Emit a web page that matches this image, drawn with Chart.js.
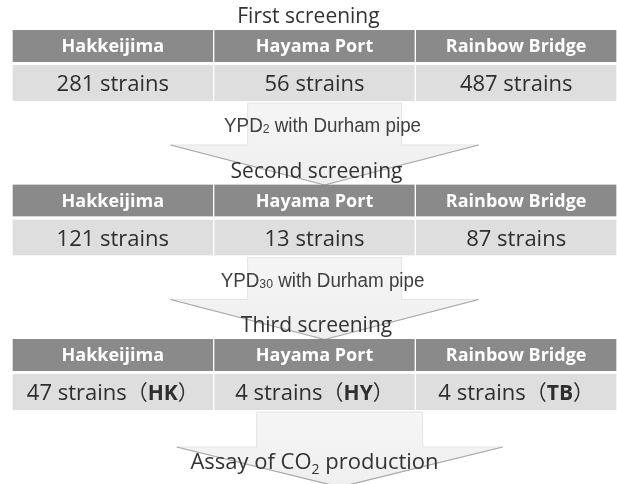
<!DOCTYPE html>
<html>
<head>
<meta charset="utf-8">
<script src="https://cdn.jsdelivr.net/npm/chart.js@4.4.0/dist/chart.umd.min.js"></script>
<style>
  html, body { margin: 0; padding: 0; background: #fff; }
  #wrap { width: 617px; height: 484px; }
</style>
</head>
<body>
<div id="wrap"><canvas id="flow"></canvas></div>
<script>
// screening flow data
var sites = ["Hakkeijima", "Hayama Port", "Rainbow Bridge"];
var stages = ["First screening", "Second screening", "Third screening"];
var firstStrains = [281, 56, 487];
var secondStrains = [121, 13, 87];
var thirdStrains = [47, 4, 4];
var codes = ["HK", "HY", "TB"];
var media = [["YPD", "2", " with Durham pipe"], ["YPD", "30", " with Durham pipe"]];
var finalStep = ["Assay of CO", "2", " production"];

var strains = [firstStrains, secondStrains, thirdStrains];
var BLOCK = 4.176; // rows between two stage tables

var headerCells = [];
var countCells = [];
stages.forEach(function(stage, si) {
    sites.forEach(function(site, ci) {
        headerCells.push({x: [ci, ci + 1], y: si * BLOCK, label: site});
        countCells.push({x: [ci, ci + 1], y: si * BLOCK + 1, n: strains[si][ci], code: si == 2 ? codes[ci] : null, col: ci});
    });
});

function drawRuns(ctx, runs, cx, baseline, sx) {
    sx = sx || 1;
    var total = 0;
    runs.forEach(function(r) {
        ctx.font = r.font;
        r.w = ctx.measureText(r.t).width * sx;
        total += r.w;
    });
    var x = cx - total / 2;
    ctx.textAlign = 'left';
    ctx.textBaseline = 'alphabetic';
    runs.forEach(function(r) {
        ctx.save();
        ctx.font = r.font;
        ctx.translate(x, baseline + (r.dy || 0));
        ctx.scale(sx, 1);
        ctx.fillText(r.t, 0, 0);
        ctx.restore();
        x += r.w;
    });
}

function drawArrow(ctx, cx, shaftHalf, headHalf, top, headTop, tip) {
    ctx.save();
    var g = ctx.createLinearGradient(0, top, 0, tip);
    g.addColorStop(0, '#f5f5f5');
    g.addColorStop(1, '#efefef');
    ctx.beginPath();
    ctx.moveTo(cx - shaftHalf, top);
    ctx.lineTo(cx - shaftHalf, headTop);
    ctx.lineTo(cx - headHalf, headTop);
    ctx.lineTo(cx, tip);
    ctx.lineTo(cx + headHalf, headTop);
    ctx.lineTo(cx + shaftHalf, headTop);
    ctx.lineTo(cx + shaftHalf, top);
    ctx.closePath();
    ctx.fillStyle = g;
    ctx.fill();
    ctx.lineWidth = 1;
    ctx.strokeStyle = '#e4e4e4';
    ctx.stroke();
    // darker lower edges of the head
    ctx.beginPath();
    ctx.moveTo(cx - headHalf, headTop);
    ctx.lineTo(cx, tip);
    ctx.lineTo(cx + headHalf, headTop);
    ctx.strokeStyle = '#a8a8a8';
    ctx.lineWidth = 1.2;
    ctx.stroke();
    ctx.restore();
}

var flowPlugin = {
    id: 'flowText',
    beforeDatasetsDraw: function(chart) {
        var ctx = chart.ctx;
        var xs = chart.scales.x;
        var rows = chart.getDatasetMeta(1).data;
        for (var si = 0; si < stages.length; si++) {
            var el = rows[si * 3 + 1];
            var bottom = el.y + el.height / 2;
            if (si < 2) {
                drawArrow(ctx, xs.getPixelForValue(1.55), 77, 154, bottom + 2, bottom + 44, bottom + 84);
            } else {
                drawArrow(ctx, xs.getPixelForValue(1.625), 83, 163, bottom + 2, bottom + 37, bottom + 77);
            }
        }
    },
    afterDatasetsDraw: function(chart) {
        var ctx = chart.ctx;
        var xs = chart.scales.x;
        ctx.save();
        var heads = chart.getDatasetMeta(0).data;
        heads.forEach(function(el, i) {
            var cell = headerCells[i];
            ctx.fillStyle = '#ffffff';
            drawRuns(ctx, [{t: cell.label, font: 'bold 18px "Open Sans"'}], (el.x + el.base) / 2, el.y + 6);
        });
        var rows = chart.getDatasetMeta(1).data;
        rows.forEach(function(el, i) {
            var cell = countCells[i];
            var runs = [{t: cell.n + ' strains', font: '22px "Open Sans"'}];
            if (cell.code) {
                runs.push({t: '\uff08', font: '21px "Noto Sans CJK JP"'});
                runs.push({t: cell.code, font: 'bold 21px "Open Sans"'});
                runs.push({t: '\uff09', font: '21px "Noto Sans CJK JP"'});
            }
            ctx.fillStyle = '#2e2e2e';
            drawRuns(ctx, runs, (el.x + el.base) / 2, el.y + 8);
        });
        // stage titles above each table
        stages.forEach(function(stage, si) {
            var el = heads[si * 3 + 1];
            ctx.fillStyle = '#333333';
            drawRuns(ctx, [{t: stage, font: '21px "Open Sans"'}], xs.getPixelForValue(si == 0 ? 1.47 : 1.51), el.y - el.height / 2 - 7);
        });
        // media between stages
        media.forEach(function(m, si) {
            var el = rows[si * 3 + 1];
            var bottom = el.y + el.height / 2;
            ctx.fillStyle = '#404040';
            drawRuns(ctx, [
                {t: m[0], font: '20px "Liberation Sans"'},
                {t: m[1], font: '13px "Liberation Sans"', dy: 1},
                {t: m[2], font: '20px "Liberation Sans"'}
            ], xs.getPixelForValue(1.54), bottom + 31, 0.94);
        });
        var last = rows[7];
        ctx.fillStyle = '#333333';
        drawRuns(ctx, [
            {t: finalStep[0], font: '22px "Open Sans"'},
            {t: finalStep[1], font: '14px "Open Sans"', dy: 5},
            {t: finalStep[2], font: '22px "Open Sans"'}
        ], xs.getPixelForValue(1.5), last.y + last.height / 2 + 59);
        ctx.restore();
    }
};

new Chart(document.getElementById('flow'), {
    type: 'bar',
    data: {
        datasets: [{
            label: 'sites',
            data: headerCells,
            backgroundColor: '#8a8a8a',
            borderColor: '#ffffff',
            borderWidth: {left: 1, right: 1, top: 0, bottom: 0},
            borderSkipped: false,
            barThickness: 32,
            grouped: false
        }, {
            label: 'strains',
            data: countCells,
            backgroundColor: '#dedede',
            borderColor: '#ffffff',
            borderWidth: {left: 1, right: 1, top: 0, bottom: 0},
            borderSkipped: false,
            barThickness: 36,
            grouped: false
        }]
    },
    plugins: [flowPlugin],
    options: {
        indexAxis: 'y',
        responsive: true,
        maintainAspectRatio: false,
        animation: false,
        layout: {padding: {left: 12, right: 0, top: 0, bottom: 0}},
        plugins: {
            legend: {display: false},
            tooltip: {enabled: false},
            title: {display: false}
        },
        scales: {
            x: {type: 'linear', min: 0, max: 3, display: false, offset: false},
            y: {type: 'linear', reverse: true, min: -1.243, max: 11.838, display: false, offset: false}
        }
    }
});
</script>
</body>
</html>
